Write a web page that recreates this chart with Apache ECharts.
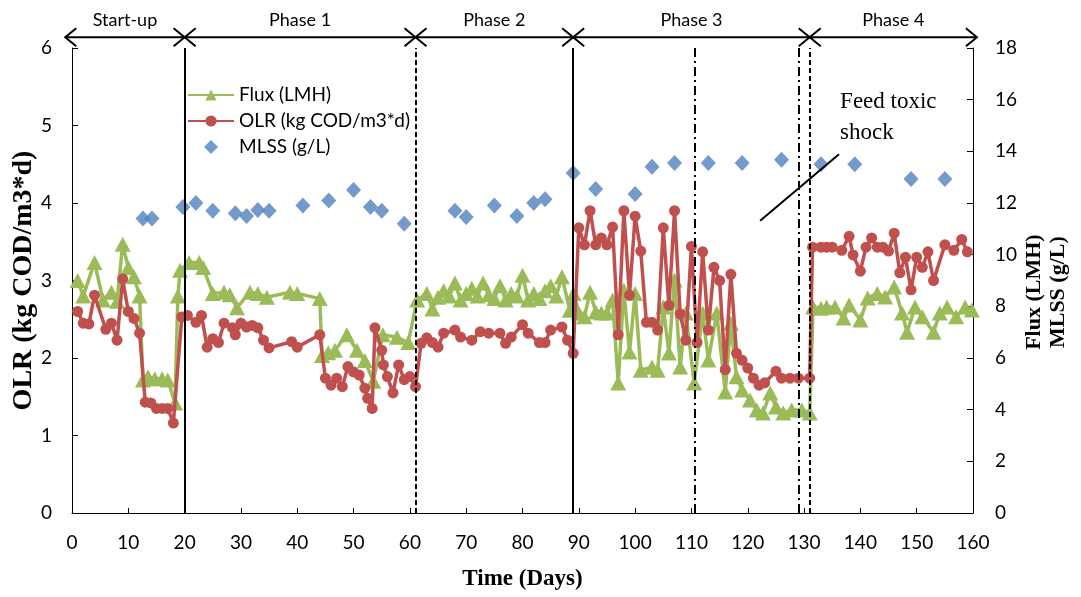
<!DOCTYPE html>
<html>
<head>
<meta charset="utf-8">
<script src="https://cdn.jsdelivr.net/npm/echarts@6/dist/echarts.min.js"></script>
<style>
  html, body { margin: 0; padding: 0; background: #ffffff; }
  #chart { width: 1081px; height: 597px; }
</style>
</head>
<body>
<div id="chart"></div>
<script>
// ---- Reactor operation data ----
// Flux (LMH), right axis
const fluxDays = [
  1, 2, 4, 5.5, 7, 8, 9, 10, 11, 12, 12.6, 13.5, 14.7, 16, 17, 18.3, 18.8, 19.2,
  20.8, 22.6, 23.3, 25, 27, 28, 29.3, 31.6, 33, 34.6, 38.7, 40, 44, 44.4, 45.5, 46.7, 48.8, 50.6, 52, 53.5, 55.2, 57.7, 59.7, 61.3,
  63, 64, 65, 66, 67, 68, 69, 70, 71, 72, 73, 74, 75, 76, 77, 78, 79, 80, 81, 82, 83, 84, 85, 86, 87, 88.4,
  89.1, 90, 91, 92, 93, 94, 95, 96, 97, 98, 99, 100, 101, 103, 104, 105, 106, 107, 108, 109, 110.5, 112, 113, 114.5,
  116, 117, 118, 119, 120.4, 121.6, 122.7, 124, 125, 126.3, 127.8, 129.6, 131,
  131.6, 133, 134, 135.5, 137, 138, 140, 141.3, 143, 144.4, 146, 147.4, 148.3, 149.7, 151, 153, 154.1, 155.4, 157, 158.6, 159.8
];
const fluxValues = [
  9.0, 8.4, 9.7, 8.25, 8.55, 8.2, 10.4, 9.5, 9.15, 8.4, 5.15, 5.27, 5.2, 5.2, 5.15, 4.26, 8.4, 9.4,
  9.7, 9.7, 9.5, 8.5, 8.55, 8.45, 7.95, 8.55, 8.5, 8.35, 8.55, 8.5, 8.3, 6.1, 6.2, 6.3, 6.9, 6.3, 5.9, 5.1, 6.9, 6.8, 6.6, 8.25,
  8.5, 7.9, 8.35, 8.6, 8.4, 8.9, 8.25, 8.5, 8.7, 8.4, 8.9, 8.45, 8.3, 8.8, 8.25, 8.5, 8.4, 9.2, 8.25, 8.5, 8.3, 8.6, 8.8, 8.4, 9.15, 7.85,
  8.5, 7.74, 7.6, 8.55, 7.78, 7.74, 7.74, 8.25, 5.03, 8.63, 6.23, 8.5, 5.53, 5.65, 5.53, 7.97, 6.19, 9.02, 5.65, 7.74, 5.03, 7.74, 5.92, 7.74,
  4.68, 7.35, 5.27, 4.76, 4.37, 3.99, 3.87, 4.65, 4.1, 3.87, 3.99, 3.99, 3.87,
  7.97, 7.93, 7.97, 7.97, 7.55, 8.05, 7.47, 8.32, 8.5, 8.36, 8.75, 7.74, 7.0, 7.97, 7.6, 7.0, 7.74, 7.97, 7.6, 7.97, 7.86
];

// OLR (kg COD/m3*d), left axis
const olrDays = [
  1, 2, 3, 4, 6, 7, 8, 9, 10, 11, 12, 13, 14, 15, 16, 17, 18, 19.5,
  20.5, 22, 23, 24, 25, 26, 27, 28.5, 29, 30, 31, 32, 33, 34, 35, 39, 40, 44, 45, 46, 47, 48, 49, 50, 51, 52, 52.5, 53.3, 53.8, 55, 55.3, 56, 57, 58, 59, 60, 61,
  62, 63, 64, 65, 66, 68, 69, 71, 72.5, 74, 76, 77, 78, 80, 81, 83, 84, 85, 87, 88, 89,
  90, 91, 92, 93, 94, 95, 96, 97, 98, 99, 100, 101, 102, 103, 104, 105, 106, 107, 108, 109, 110, 111, 112, 113, 114, 115,
  116, 117, 118, 119, 120, 121, 122, 123, 125, 126, 127.5, 129, 131,
  131.5, 133, 134, 135, 136.7, 138, 138.7, 140, 141, 142, 143, 144, 145, 146, 147, 148, 149, 150, 151, 152, 153, 155, 156.6, 158, 159
];
const olrValues = [
  2.6, 2.45, 2.44, 2.81, 2.37, 2.45, 2.23, 3.02, 2.6, 2.51, 2.32, 1.43, 1.42, 1.35, 1.35, 1.35, 1.16, 2.53,
  2.55, 2.46, 2.55, 2.14, 2.25, 2.2, 2.45, 2.39, 2.3, 2.45, 2.4, 2.42, 2.39, 2.23, 2.13, 2.21, 2.14, 2.3, 1.74, 1.65, 1.74, 1.63, 1.89, 1.82, 1.78, 1.61, 1.48, 1.35, 2.39, 2.1, 1.91, 1.76, 1.55, 1.91, 1.72, 1.76, 1.63,
  2.19, 2.26, 2.2, 2.14, 2.32, 2.36, 2.27, 2.23, 2.34, 2.32, 2.32, 2.19, 2.27, 2.43, 2.32, 2.2, 2.2, 2.36, 2.4, 2.23, 2.06,
  3.68, 3.46, 3.9, 3.46, 3.55, 3.46, 3.69, 2.3, 3.9, 2.81, 3.83, 3.38, 2.46, 2.46, 2.36, 3.68, 2.68, 3.9, 2.57, 2.23, 3.44, 2.2, 3.37, 2.36, 3.17, 3.0,
  1.85, 3.08, 2.06, 1.97, 1.87, 1.74, 1.65, 1.68, 1.83, 1.74, 1.74, 1.74, 1.74,
  3.43, 3.43, 3.43, 3.43, 3.39, 3.57, 3.33, 3.12, 3.43, 3.55, 3.43, 3.43, 3.38, 3.61, 3.1, 3.3, 2.88, 3.3, 3.17, 3.37, 3.0, 3.46, 3.39, 3.53, 3.37
];

// MLSS (g/L), right axis
const mlssDays = [12.6, 14.2, 19.7, 22, 25, 29, 31, 33, 35, 41, 45.6, 50, 53, 55, 59,
  68, 70, 75, 79, 82, 84, 89, 93, 100, 103, 107, 113, 119, 126, 133, 139, 149, 155];
const mlssValues = [11.4, 11.4, 11.85, 12.0, 11.7, 11.6, 11.5, 11.73, 11.7, 11.9, 12.1, 12.5, 11.85, 11.7, 11.2,
  11.7, 11.46, 11.9, 11.5, 12.0, 12.15, 13.16, 12.54, 12.35, 13.4, 13.55, 13.55, 13.55, 13.67, 13.5, 13.5, 12.93, 12.93];

// Operating phases (day boundaries) and their names
const phaseNames = ['Start-up', 'Phase 1', 'Phase 2', 'Phase 3', 'Phase 4'];
const phaseBounds = [-1.2, 20, 61, 89, 131, 160.7];

// Event lines inside the run
const solidLineDays = [20, 89];
const dashedLineDays = [61, 131];
const dashDotLineDays = [110.5, 129];

// Axis ticks
const xTicks = { min: 0, max: 160, interval: 10 };
const leftTicks = { min: 0, max: 6, interval: 1 };
const rightTicks = { min: 0, max: 18, interval: 2 };

const pairs = (xs, ys) => xs.map((x, i) => [x, ys[i]]);

const GREEN = '#9BBB59';
const RED = '#C0504D';
const BLUE = '#4F81BD';
const SANS = 'Lato, "Noto Sans", sans-serif';
const SERIF = '"Liberation Serif", "DejaVu Serif", serif';

const chart = echarts.init(document.getElementById('chart'), null, { renderer: 'canvas' });

const axisCommon = {
  axisLine: { show: true, lineStyle: { color: '#000', width: 1 } },
  axisTick: { show: true, inside: true, length: 6, lineStyle: { color: '#000', width: 1 } },
  splitLine: { show: false },
  axisLabel: { color: '#000', fontFamily: SANS, fontSize: 19 }
};

const vLines = [];
solidLineDays.forEach(d => vLines.push({ xAxis: d, lineStyle: { type: 'solid', width: 2, color: '#000' } }));
dashedLineDays.forEach(d => vLines.push({ xAxis: d, lineStyle: { type: [5, 3], width: 2, color: '#000' } }));
dashDotLineDays.forEach(d => vLines.push({ xAxis: d, lineStyle: { type: [9, 4, 2, 4], width: 2, color: '#000' } }));

chart.setOption({
  animation: false,
  backgroundColor: '#fff',
  grid: { left: 72, right: 108, top: 48, bottom: 84, containLabel: false },
  legend: {
    orient: 'vertical',
    left: 182,
    top: 80,
    itemWidth: 46,
    itemHeight: 14,
    itemGap: 6,
    textStyle: { fontFamily: SANS, fontSize: 19, lineHeight: 20, color: '#000' },
    data: [
      'Flux (LMH)',
      'OLR (kg COD/m3*d)',
      { name: 'MLSS (g/L)', icon: 'path://M7,0 L14,7 L7,14 L0,7 Z' }
    ]
  },
  xAxis: Object.assign({}, axisCommon, {
    type: 'value', min: xTicks.min, max: xTicks.max, interval: xTicks.interval,
    axisLabel: Object.assign({}, axisCommon.axisLabel, { margin: 20 }),
    axisTick: { show: true, inside: true, length: 5, lineStyle: { color: '#000' } }
  }),
  yAxis: [
    Object.assign({}, axisCommon, {
      type: 'value', position: 'left', min: leftTicks.min, max: leftTicks.max, interval: leftTicks.interval,
      axisLabel: Object.assign({}, axisCommon.axisLabel, { margin: 20 })
    }),
    Object.assign({}, axisCommon, {
      type: 'value', position: 'right', min: rightTicks.min, max: rightTicks.max, interval: rightTicks.interval,
      axisLabel: Object.assign({}, axisCommon.axisLabel, { margin: 22 })
    })
  ],
  series: [
    {
      name: 'Flux (LMH)', type: 'line', yAxisIndex: 1,
      data: pairs(fluxDays, fluxValues),
      symbol: 'triangle', symbolSize: [16, 15],
      itemStyle: { color: GREEN }, lineStyle: { color: GREEN, width: 3.5 },
      z: 2
    },
    {
      name: 'OLR (kg COD/m3*d)', type: 'line', yAxisIndex: 0,
      data: pairs(olrDays, olrValues),
      symbol: 'circle', symbolSize: 11,
      itemStyle: { color: RED }, lineStyle: { color: RED, width: 3.5 },
      z: 3
    },
    {
      name: 'MLSS (g/L)', type: 'scatter', yAxisIndex: 1,
      data: pairs(mlssDays, mlssValues),
      symbol: 'diamond', symbolSize: [15, 16],
      itemStyle: { color: BLUE },
      z: 4,
      markLine: {
        silent: true, symbol: 'none', label: { show: false },
        data: vLines
      }
    },
    {
      // pointer line for the shock annotation
      type: 'line', yAxisIndex: 0, data: [], silent: true,
      markLine: {
        silent: true, symbol: 'none', label: { show: false },
        lineStyle: { color: '#000', width: 2, type: 'solid' },
        data: [[{ coord: [122.2, 3.77] }, { coord: [136.2, 4.63] }]]
      }
    }
  ]
});

// Phase arrows, titles and annotation text placed through the axis scales
function px(day) { return chart.convertToPixel({ xAxisIndex: 0 }, day); }
function py(olr) { return chart.convertToPixel({ yAxisIndex: 0 }, olr); }

const g = [];
const arrowY = py(6.14);
const labelY = py(6.36);
for (let i = 0; i < phaseNames.length; i++) {
  const x1 = px(phaseBounds[i]);
  const x2 = px(phaseBounds[i + 1]);
  const st = { stroke: '#000', lineWidth: 2, fill: null };
  g.push({ type: 'line', shape: { x1: x1, y1: arrowY, x2: x2, y2: arrowY }, style: st, silent: true });
  g.push({ type: 'polyline', shape: { points: [[x1 + 11, arrowY - 9], [x1, arrowY], [x1 + 11, arrowY + 9]] }, style: st, silent: true });
  g.push({ type: 'polyline', shape: { points: [[x2 - 11, arrowY - 9], [x2, arrowY], [x2 - 11, arrowY + 9]] }, style: st, silent: true });
  g.push({
    type: 'text', x: (x1 + x2) / 2, y: labelY, silent: true,
    style: { text: phaseNames[i], font: '18px ' + SANS, fill: '#000', align: 'center', verticalAlign: 'middle' }
  });
}

// axis titles
g.push({
  type: 'text', x: 24, y: py(3), rotation: Math.PI / 2, silent: true,
  style: { text: 'OLR (kg COD/m3*d)', font: 'bold 28px ' + SERIF, fill: '#000', align: 'center', verticalAlign: 'middle' }
});
g.push({
  type: 'text', x: 1046, y: py(2.85), rotation: Math.PI / 2, silent: true,
  style: { text: 'Flux (LMH)\nMLSS (g/L)', font: 'bold 22px ' + SERIF, lineHeight: 24, fill: '#000', align: 'center', verticalAlign: 'middle' }
});
g.push({
  type: 'text', x: px(80), y: 579, silent: true,
  style: { text: 'Time (Days)', font: 'bold 23px ' + SERIF, fill: '#000', align: 'center', verticalAlign: 'middle' }
});

// shock annotation
g.push({
  type: 'text', x: px(136.4), y: py(5.1), silent: true,
  style: { text: 'Feed toxic\nshock', font: '23px ' + SERIF, lineHeight: 31, fill: '#000', align: 'left', verticalAlign: 'middle' }
});

chart.setOption({ graphic: g });
</script>
</body>
</html>
